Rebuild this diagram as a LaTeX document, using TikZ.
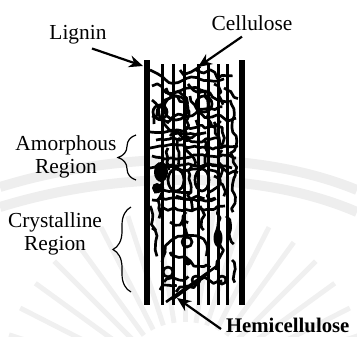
\documentclass[tikz,border=0pt]{standalone}
\usepackage{fontspec}
\setmainfont{Liberation Serif}
\usetikzlibrary{arrows.meta,decorations.pathmorphing,decorations.pathreplacing}

% 坐标以像素计: 1 单位 = 2pt
\tikzset{
  fibre/.style={line width=6pt, line cap=butt},
  wall/.style={line width=11pt, line cap=butt},
  knot/.style={line width=5.4pt, line join=round},
  tangle/.style={knot, decorate,
    decoration={random steps, segment length=9pt, amplitude=3.4pt}},
  pointer/.style={line width=4.4pt, -{Stealth[length=28pt,width=24pt]}},
  region/.style={decorate, decoration={brace, amplitude=36pt}, line width=2.4pt},
  wm/.style={gray!13, line width=20pt},
  tag/.style={font=\fontsize{42.8}{47.2}\selectfont, inner sep=0pt, align=center}
}

\begin{document}
\begin{tikzpicture}[x=2pt, y=-2pt]
    % --- 画布大小 ---
    \useasboundingbox (0,0) rectangle (357,336);
    \pgfmathsetseed{11}

    % --- 参数 ---
    \def\fTop{64}     % 细纤维上端
    \def\wTop{60}     % 壁线上端
    \def\fBot{305}    % 下端

    % --- 背景水印 (浅灰弧线和放射线) ---
    \draw[wm] (0,187) .. controls (120,150) and (260,150) .. (357,190);
    \draw[wm] (0,207) .. controls (120,170) and (260,170) .. (357,212);
    \coordinate (wmc) at (185,392);
    \foreach \a in {18,27,...,162}
        \draw[gray!12, line width=10pt] ([shift={(-\a:70)}]wmc) -- ([shift={(-\a:185)}]wmc);

    % --- 纤维: 两侧粗线 + 中间细线 ---
    \draw[wall] (147,\wTop) -- (147,\fBot);
    \draw[wall] (242,\wTop) -- (242,\fBot);
    \foreach \x in {162,173,184.5,198,208.5,218.5,227.5}
        \draw[fibre] (\x,\fTop) -- (\x,\fBot);

    % --- 上部缠绕 (木质素网络) ---
    \draw[tangle] (150,70) -- (158,74) .. controls (166,78) and (168,84) .. (178,82)
        .. controls (188,80) and (192,76) .. (200,80) .. controls (210,84) and (216,78) .. (224,80);
    \draw[tangle] (154,124) .. controls (156,100) and (180,88) .. (196,88)
        .. controls (210,90) and (214,104) .. (226,100);
    \draw[knot] (176,108) circle [radius=24pt];
    \draw[tangle] (190,96) .. controls (196,110) and (200,118) .. (212,116)
        .. controls (222,114) and (226,124) .. (236,118);
    \draw[tangle] (152,100) .. controls (160,108) and (162,128) .. (174,130)
        .. controls (186,132) and (190,124) .. (200,128);
    \draw[tangle] (166,88) .. controls (172,96) and (186,100) .. (188,112)
        .. controls (190,124) and (182,134) .. (190,140);
    \draw[tangle] (205,92) .. controls (210,104) and (204,116) .. (212,126)
        .. controls (220,136) and (216,142) .. (226,146);
    \draw[tangle] (230,100) .. controls (238,110) and (228,122) .. (234,132)
        .. controls (240,142) and (228,152) .. (234,162)
        .. controls (240,172) and (228,180) .. (234,190)
        .. controls (238,198) and (230,204) .. (234,212);
    \draw[tangle] (180,70) .. controls (186,78) and (194,72) .. (200,66);
    \draw[tangle] (214,84) .. controls (222,90) and (216,98) .. (224,104);
    \draw[tangle] (152,86) .. controls (160,80) and (164,94) .. (172,92);
    \draw[tangle] (196,70) .. controls (204,74) and (208,68) .. (214,74)
        .. controls (220,80) and (226,72) .. (232,78);
    \draw[knot] (204,104) circle [radius=16pt];
    \draw[tangle] (166,122) .. controls (178,112) and (188,118) .. (196,112)
        .. controls (204,106) and (214,112) .. (222,106);
    \draw[tangle] (150,132) .. controls (162,136) and (170,124) .. (180,136)
        .. controls (188,144) and (196,130) .. (206,134);
    \draw[tangle] (214,122) .. controls (222,128) and (228,136) .. (222,144);
    \draw[knot] (160,112) circle [radius=14pt];
    \draw[tangle] (170,96) .. controls (180,90) and (190,100) .. (184,108);
    \draw[tangle] (196,120) .. controls (202,130) and (214,128) .. (220,120);
    \draw[tangle] (152,116) .. controls (158,120) and (164,116) .. (168,124);
    \draw[tangle] (224,88) .. controls (232,92) and (236,100) .. (238,96);
    \draw[tangle] (188,84) .. controls (192,92) and (200,96) .. (206,90);
    \draw[tangle] (170,136) .. controls (178,128) and (196,140) .. (200,132);

    % --- 无定形区: 横向密集缠绕 ---
    \draw[tangle] (150,148) .. controls (175,140) and (200,152) .. (238,146);
    \draw[tangle] (152,156) .. controls (180,162) and (205,150) .. (236,158);
    \draw[tangle] (156,140) .. controls (170,136) and (190,144) .. (220,138);
    \draw[tangle] (158,164) .. controls (180,168) and (210,162) .. (232,168);
    \draw[tangle] (180,138) .. controls (176,146) and (184,154) .. (178,164);
    \draw[tangle] (204,140) .. controls (210,148) and (202,156) .. (208,166);
    \draw[tangle] (222,150) .. controls (216,160) and (226,168) .. (218,180);
    \draw[tangle] (150,168) .. controls (165,160) and (185,176) .. (200,168)
        .. controls (215,160) and (225,176) .. (238,172);
    \draw[tangle] (186,146) .. controls (190,156) and (196,160) .. (194,166);
    \draw[tangle] (168,148) .. controls (164,156) and (172,162) .. (168,170);
    \fill (161,172) ellipse [x radius=14pt, y radius=20pt];
    \fill (157,188) circle [radius=10pt];
    \draw[knot] (176,180) ellipse [x radius=16pt, y radius=22pt];
    \draw[knot] (202,180) ellipse [x radius=14pt, y radius=22pt];
    \draw[tangle] (163,166) .. controls (158,176) and (166,186) .. (160,196)
        .. controls (156,204) and (164,210) .. (158,218);
    \draw[tangle] (192,166) .. controls (186,176) and (196,184) .. (190,192)
        .. controls (186,198) and (196,204) .. (190,210);
    \draw[tangle] (210,170) .. controls (220,172) and (220,186) .. (212,190)
        .. controls (204,194) and (208,200) .. (216,198);
    \draw[tangle] (154,192) .. controls (170,188) and (176,196) .. (190,192);
    \draw[tangle] (214,176) .. controls (222,184) and (226,190) .. (222,196);
    \draw[tangle] (176,196) .. controls (184,200) and (196,194) .. (204,200);

    % --- 结晶区: 稀疏缠绕 ---
    \draw[tangle] (152,200) .. controls (170,196) and (190,204) .. (215,198);
    \draw[tangle] (160,210) .. controls (175,206) and (200,214) .. (225,206);
    \draw[tangle] (162,262) .. controls (164,240) and (180,232) .. (196,236)
        .. controls (206,238) and (210,248) .. (206,256);
    \draw[knot] (187,242) circle [radius=10pt];
    \draw[knot] (222,280) circle [radius=8pt];
    \draw[knot] (196,280) circle [radius=8pt];
    \draw[knot] (168,272) circle [radius=10pt];
    \draw[tangle] (216,206) .. controls (224,218) and (212,232) .. (220,242)
        .. controls (226,252) and (214,260) .. (218,270);
    \draw[tangle] (164,282) .. controls (170,274) and (180,286) .. (188,276);
    \draw[tangle] (186,212) .. controls (180,222) and (190,228) .. (186,236);
    \draw[tangle] (152,228) .. controls (158,236) and (152,246) .. (158,256);
    \draw[tangle] (176,292) .. controls (180,286) and (192,290) .. (196,282)
        .. controls (204,274) and (212,286) .. (222,280);
    \draw[tangle] (170,222) .. controls (176,226) and (182,220) .. (188,224);
    \draw[tangle] (150,206) .. controls (156,214) and (150,222) .. (156,230);
    \draw[tangle] (200,206) .. controls (206,214) and (200,222) .. (204,230);
    \draw[tangle] (226,216) .. controls (232,224) and (228,236) .. (234,244);
    \draw[tangle] (170,252) .. controls (176,258) and (184,254) .. (190,262)
        .. controls (196,268) and (204,262) .. (210,268);
    \draw[tangle] (160,290) .. controls (164,284) and (172,290) .. (176,284);
    \draw[tangle] (232,260) .. controls (236,268) and (230,276) .. (236,282);
    \draw[line width=5.2pt] (166,302) -- (217,266);
    \draw[line width=4pt] (172,300) -- (208,274);
    \fill (188,262) circle [radius=7pt];
    \fill (218,238) ellipse [x radius=9pt, y radius=18pt];

    % --- 标签 ---
    \node[tag] (lignin) at (78,35) {Lignin};
    \node[tag] (cellulose) at (252,23) {Cellulose};
    \node[tag] (amorph) at (66,157) {Amorphous\\Region};
    \node[tag] (cryst) at (55,234) {Crystalline\\Region};
    \node[tag, font=\fontsize{41.5}{46}\selectfont\bfseries, anchor=west] (hemi) at (226,325) {Hemicellulose};

    % --- 箭头 ---
    \coordinate (ligTip) at (143,66);
    \coordinate (celTip) at (198,67);
    \coordinate (hemTip) at (177,298);
    \draw[pointer] ([xshift=28pt, yshift=-8pt]lignin.south) -- (ligTip);
    \draw[pointer] ([xshift=-20pt, yshift=-12pt]cellulose.south) -- (celTip);
    \draw[pointer] ([xshift=-10pt, yshift=-8pt]hemi.west) -- (hemTip);

    % --- 括号 ---
    \draw[region] (136,180) -- (136,135);
    \draw[region] (131,292) -- (131,207);

\end{tikzpicture}
\end{document}
